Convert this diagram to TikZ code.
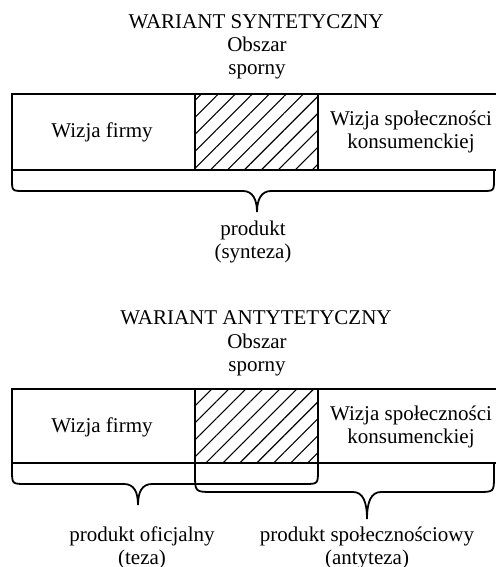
\documentclass[tikz,border=0pt]{standalone}
\usepackage{fontspec}
\setmainfont{Liberation Serif}
\usetikzlibrary{patterns.meta}

\begin{document}
\begin{tikzpicture}[x=0.5pt,y=-0.5pt,
    txt/.style={align=center,inner sep=0pt,font=\fontsize{10.5}{11.5}\selectfont},
    ramka/.style={line width=0.9pt},
    spor/.style={pattern={Lines[angle=45,distance=6pt,line width=0.55pt]}},
    klamra/.style={line width=0.9pt}
  ]
    \useasboundingbox (0,0) rectangle (496,567);
    % wariant syntetyczny
    \node[txt] (tyt1) at (256,22) {WARIANT SYNTETYCZNY};
    \node[txt] (obs1) at (257,58) {Obszar\\sporny};
    \fill[spor] (195,94) rectangle (318,170);
    \draw[ramka] (12,94) rectangle (510,170);
    \draw[ramka] (195,94) -- (195,170) (318,94) -- (318,170);
    \node[txt] (firma1) at (102,132) {Wizja firmy};
    \node[txt] (spol1) at (411,132) {Wizja społeczności\\konsumenckiej};
    \draw[klamra] (12,170) -- (12,179) .. controls (12,191) .. (24,191) -- (243,191)
      .. controls (253,191) and (257,200) .. (257,212)
      .. controls (257,200) and (261,191) .. (271,191) -- (482,191)
      .. controls (494,191) .. (494,179) -- (494,170);
    \node[txt] (prod1) at (253,242) {produkt\\(synteza)};
    % wariant antytetyczny
    \node[txt] (tyt2) at (256,318) {WARIANT ANTYTETYCZNY};
    \node[txt] (obs2) at (257,355) {Obszar\\sporny};
    \fill[spor] (195,389) rectangle (318,463);
    \draw[ramka] (12,389) rectangle (510,463);
    \draw[ramka] (195,389) -- (195,463) (318,389) -- (318,463);
    \node[txt] (firma2) at (102,427) {Wizja firmy};
    \node[txt] (spol2) at (411,427) {Wizja społeczności\\konsumenckiej};
    \draw[klamra] (12,463) -- (12,470) .. controls (12,484) .. (26,484) -- (124,484)
      .. controls (134,484) and (138,492) .. (138,505)
      .. controls (138,492) and (142,484) .. (152,484) -- (304,484)
      .. controls (318,484) .. (318,470) -- (318,463);
    \draw[klamra] (195,463) -- (195,474) .. controls (195,492) .. (213,492) -- (353,492)
      .. controls (363,492) and (367,502) .. (367,519)
      .. controls (367,502) and (371,492) .. (381,492) -- (478,492)
      .. controls (494,492) .. (494,476) -- (494,463);
    \node[txt] (prod2) at (142,548) {produkt oficjalny\\(teza)};
    \node[txt] (prod3) at (367,548) {produkt społecznościowy\\(antyteza)};
  \end{tikzpicture}
\end{document}
